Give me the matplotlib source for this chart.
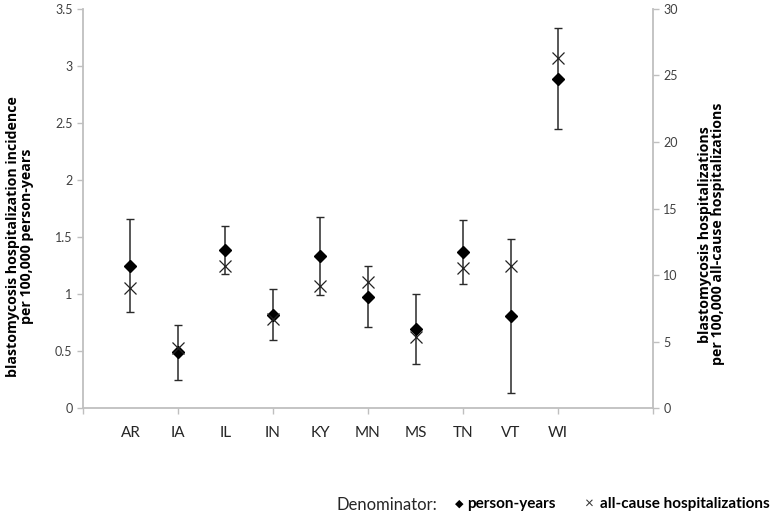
import matplotlib.pyplot as plt

# states, in plotting order
states = ["AR", "IA", "IL", "IN", "KY", "MN", "MS", "TN", "VT", "WI"]

# incidence per 100,000 person-years (left axis) and its CI half-width
person_years = [1.25, 0.487, 1.385, 0.82, 1.335, 0.977, 0.695, 1.37, 0.81, 2.89]
py_err = [0.41, 0.244, 0.21, 0.22, 0.34, 0.27, 0.305, 0.28, 0.675, 0.44]

# per 100,000 all-cause hospitalizations (right axis)
all_cause = [9.0, 4.5, 10.7, 6.7, 9.2, 9.5, 5.35, 10.55, 10.65, 26.3]


def main():
    plt.rcParams['font.family'] = ['Lato', 'DejaVu Sans']
    fig = plt.figure(figsize=(7.74, 5.17), dpi=100)
    ax = fig.add_axes([0.1072, 0.2108, 0.7365, 0.7718])
    ax2 = ax.twinx()

    pos = list(range(1, len(states) + 1))
    grey = "#BFBFBF"

    # person-years series with error bars
    ax.errorbar(pos, person_years, yerr=py_err, fmt='D', color='black',
                ecolor='#2a2a2a', elinewidth=1.1, capsize=3, capthick=1,
                markersize=6, zorder=3)
    # all-cause hospitalizations on the secondary axis
    ax2.plot(pos, all_cause, 'x', color='#222222', markersize=9,
             markeredgewidth=0.9, zorder=4)

    ax.set_xlim(0, 12)
    ax.set_ylim(0, 3.5)
    ax2.set_ylim(0, 30)
    ax.set_yticks([0, 0.5, 1, 1.5, 2, 2.5, 3, 3.5])
    ax.set_yticklabels(['0', '0.5', '1', '1.5', '2', '2.5', '3', '3.5'])
    ax2.set_yticks([0, 5, 10, 15, 20, 25, 30])
    ax.set_xticks([0, 2, 4, 6, 8, 10, 12])
    ax.set_xticklabels([])

    for a in (ax, ax2):
        a.spines['top'].set_visible(False)
        for s in ('left', 'right', 'bottom'):
            a.spines[s].set_color(grey)
            a.spines[s].set_linewidth(1.3)
        a.tick_params(direction='out', length=4, width=1, color=grey,
                      labelsize=9, labelcolor='#404040')
    ax.spines['right'].set_visible(False)
    ax2.spines['left'].set_visible(False)
    ax2.spines['bottom'].set_visible(False)

    # category labels under the axis
    for p, s in zip(pos, states):
        ax.text(p, -0.22, s, ha='center', va='center', fontsize=11,
                color='#262626', clip_on=False)

    fig.text(0.026, 0.543, "blastomycosis hospitalization incidence\nper 100,000 person-years",
             rotation=90, ha='center', va='center', fontsize=10.2,
             fontweight='bold', linespacing=0.95, family=['Open Sans'])
    fig.text(0.919, 0.547, "blastomycosis hospitalizations\nper 100,000 all-cause hospitalizations",
             rotation=90, ha='center', va='center', fontsize=10.2,
             fontweight='bold', linespacing=0.95, family=['Open Sans'])

    # legend drawn as text
    fig.text(0.435, 0.023, "Denominator:", fontsize=12, color='#262626', va='center')
    fig.text(0.588, 0.026, "◆", fontsize=8, va='center', family=['DejaVu Sans'])
    fig.text(0.603, 0.026, "person-years", fontsize=11, fontweight='bold', va='center')
    fig.text(0.756, 0.026, "×", fontsize=11, va='center', color='#333333')
    fig.text(0.775, 0.026, "all-cause hospitalizations", fontsize=11,
             fontweight='bold', va='center')

    fig.savefig('out.png', dpi=100)


if __name__ == "__main__":
    main()
